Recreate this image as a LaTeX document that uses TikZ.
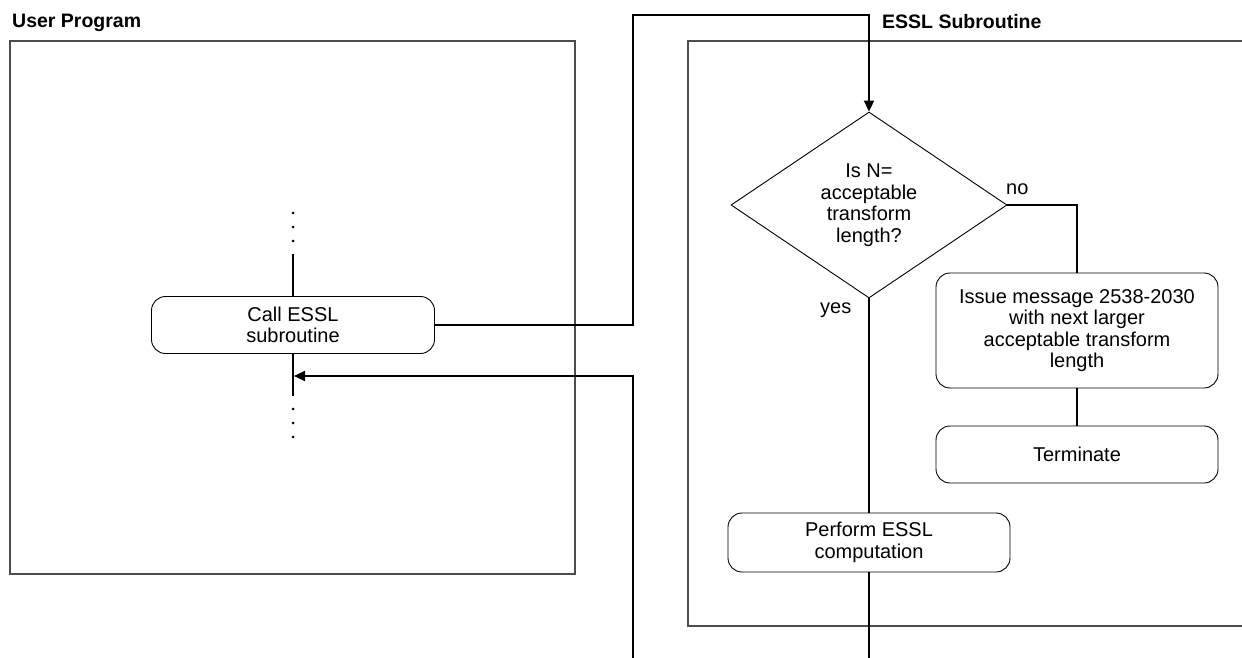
\documentclass[tikz,border=0pt]{standalone}
\usepackage{fontspec}
\setmainfont{Liberation Sans}
\usetikzlibrary{shapes.geometric,arrows.meta}
\begin{document}
\begin{tikzpicture}[x=1pt,y=-1pt,
  every node/.style={font=\fontsize{20}{21.5}\selectfont},
  frame/.style={draw=black!70, line width=1.3pt},
  proc/.style={draw, rounded corners=14pt, line width=0.9pt, align=center, inner sep=0pt},
  decision/.style={draw, diamond, line width=0.9pt, align=center, inner sep=0pt, minimum width=276pt, minimum height=186pt},
  flow/.style={line width=2pt},
  arr/.style={flow, -{Triangle[length=11pt,width=10pt]}},
  title/.style={font=\bfseries\fontsize{19.5}{21}\selectfont, anchor=base west, inner sep=0pt},
  lbl/.style={anchor=base west, inner sep=0pt}
]
\useasboundingbox (0,0) rectangle (1242,658);

% titles
\node[title] (tup) at (12,28) {User Program};
\node[title] (tessl) at (882,29) {ESSL Subroutine};

% frames
\draw[frame] (10,41) rectangle (575,574);
\draw[frame] (1250,41) -- (688,41) -- (688,626) -- (1250,626);

% nodes
\node[proc, minimum width=283pt, minimum height=57pt] (call) at (293,325) {Call ESSL\\subroutine};
\node[decision] (dec) at (869,205) {Is N=\\acceptable\\transform\\length?};
\node[proc, minimum width=282pt, minimum height=115pt] (issue) at (1077,330.5) {Issue message 2538-2030\\with next larger\\acceptable transform\\length};
\node[proc, minimum width=282pt, minimum height=57pt] (term) at (1077,454.5) {Terminate};
\node[proc, minimum width=282pt, minimum height=59pt] (perf) at (869,542.5) {Perform ESSL\\computation};

% labels
\node[lbl] (no) at (1006,194) {no};
\node[lbl] (yes) at (820,313) {yes};

% coordinates
\coordinate (tl) at (633,15);
\coordinate (tr) at (869,15);
\coordinate (b1) at (869,658);
\coordinate (b2) at (633,658);
\coordinate (rt) at (633,376);
\coordinate (ra) at (294,376);
\coordinate (ut) at (293,254);
\coordinate (lb) at (293,396);

% connectors
\draw[arr] (call.east) -| (tl) -- (tr) -- (dec.north);
\draw[flow] (dec.east) -| (issue.north);
\draw[flow] (issue.south) -- (term.north);
\draw[flow] (dec.south) -- (perf.north);
\draw[flow] (perf.south) -- (b1);
\draw[arr] (b2) -- (rt) -- (ra);
\draw[flow] (ut) -- (call.north);
\draw[flow] (call.south) -- (lb);

% dots
\foreach \yy in {213,227,241,409,423,437} \fill (293,\yy) circle (1.5pt);
\end{tikzpicture}
\end{document}
